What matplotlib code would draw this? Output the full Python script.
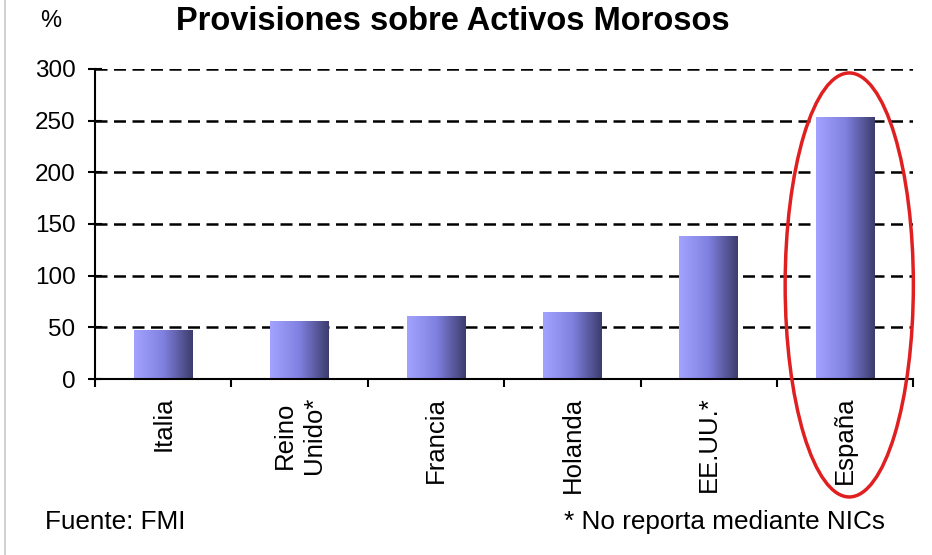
import numpy as np
import matplotlib
matplotlib.use("Agg")
import matplotlib.pyplot as plt
from matplotlib.patches import Ellipse
from matplotlib.lines import Line2D
from matplotlib.colors import LinearSegmentedColormap

# data
paises = ["Italia", "Reino\nUnido*", "Francia", "Holanda", "EE.UU.*", "España"]
provisiones = [47, 56, 61, 65, 138, 253]
y_ticks = [0, 50, 100, 150, 200, 250, 300]

plt.rcParams['font.family'] = ['Liberation Sans', 'DejaVu Sans']

fig = plt.figure(figsize=(9.32, 5.55), dpi=100)
ax = fig.add_axes([0.102, 0.317, 0.878, 0.559])

x = np.arange(len(paises))
bars = ax.bar(x, provisiones, width=0.43, facecolor="none", edgecolor="none", zorder=3)

# horizontal gradient fill for each bar
cmap = LinearSegmentedColormap.from_list("barra", ["#a3a3ff", "#8080e0", "#3c3c6c"])
grad = np.linspace(0, 1, 256).reshape(1, -1)
for b in bars:
    x0, y0 = b.get_x(), b.get_y()
    w, h = b.get_width(), b.get_height()
    im = ax.imshow(grad, cmap=cmap, aspect="auto", extent=[x0, x0 + w, y0, y0 + h],
                   zorder=3, interpolation="bilinear")
    im.set_clip_path(b)

ax.set_xlim(-0.5, len(paises) - 0.5)
ax.set_ylim(0, 300)
ax.set_yticks(y_ticks)
ax.set_yticklabels([str(v) for v in y_ticks], fontsize=17.5)

# x ticks at category boundaries, labels centred under bars
ax.set_xticks(np.arange(len(paises) + 1) - 0.5)
ax.set_xticklabels([])
ax.tick_params(axis="x", direction="out", length=6, width=1.5, color="black")
ax.tick_params(axis="y", direction="inout", length=10, width=1.5, color="black", pad=9)
for xi, lab in zip(x, paises):
    ax.text(xi, -17, lab, rotation=90, ha="center", va="top", fontsize=18.5,
            linespacing=1.3)

for v in y_ticks[1:]:
    ax.axhline(v, color="black", linestyle=(0, (4.8, 2.6)), linewidth=1.8, zorder=1)

for s in ["top", "right"]:
    ax.spines[s].set_visible(False)
ax.spines["left"].set_linewidth(1.5)
ax.spines["bottom"].set_linewidth(1.5)
ax.spines["left"].set_zorder(4)
ax.spines["bottom"].set_zorder(4)

# red ellipse around España
ell = Ellipse((5.03, 91), width=0.94, height=410, fill=False, edgecolor="#e02020",
              linewidth=2.5, clip_on=False, zorder=5)
ax.add_patch(ell)

fig.text(0.486, 0.962, "Provisiones sobre Activos Morosos", ha="center", va="center",
         fontsize=23.5, fontweight="bold")
fig.text(0.043, 0.962, "%", ha="left", va="center", fontsize=17)
fig.text(0.048, 0.06, "Fuente: FMI", ha="left", va="center", fontsize=18.8)
fig.text(0.95, 0.06, "* No reporta mediante NICs", ha="right", va="center", fontsize=18.8)

fig.add_artist(Line2D([0.005, 0.005], [0.0, 1.0], color="#c8c8c8", linewidth=1.2,
                      transform=fig.transFigure))

fig.savefig("out.png", dpi=100)
